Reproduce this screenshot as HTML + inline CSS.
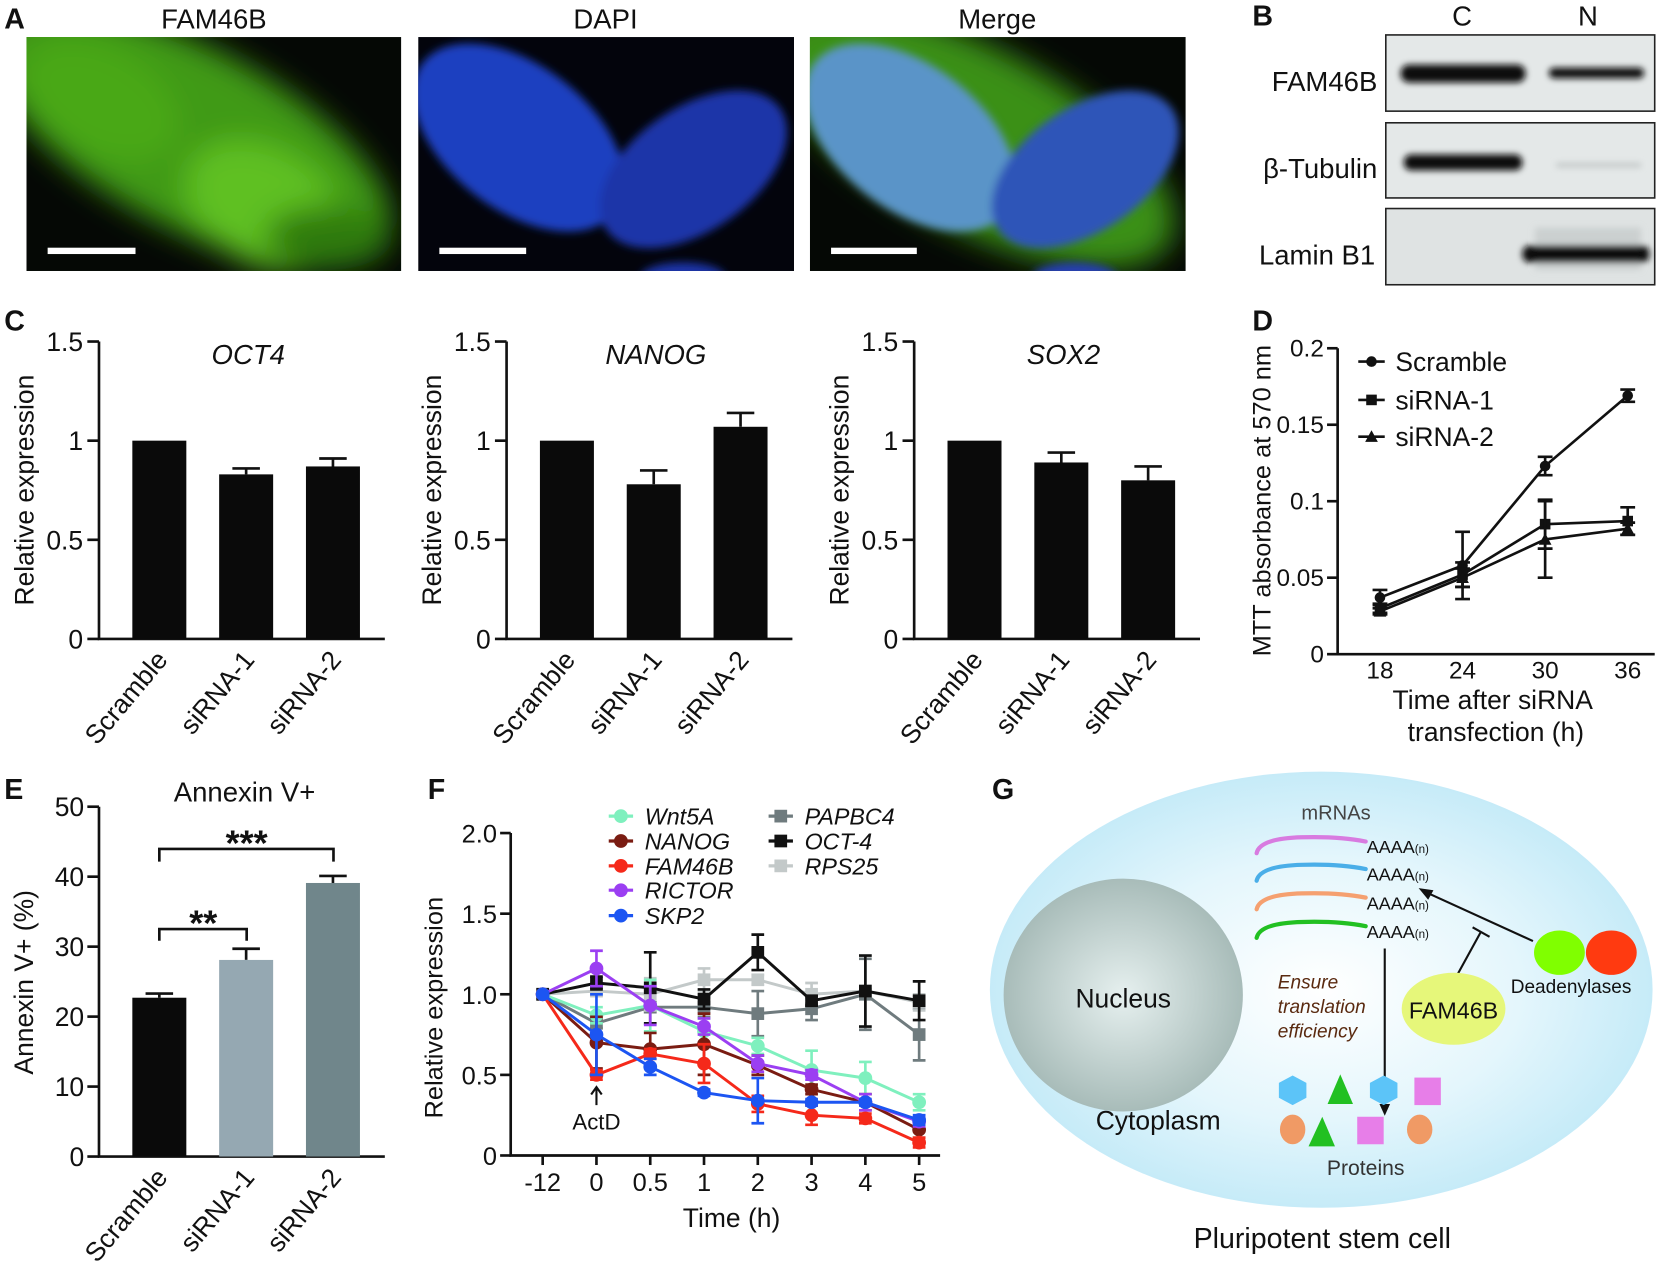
<!DOCTYPE html>
<html><head><meta charset="utf-8"><style>
html,body{margin:0;padding:0;background:#fff;}
svg{display:block;font-family:"Liberation Sans",Arial,sans-serif;}
</style></head><body>
<svg id="fig" xmlns="http://www.w3.org/2000/svg" width="1660" height="1266" viewBox="0 0 1568 1196" preserveAspectRatio="none">
<defs>
<filter id="bl" x="-50%" y="-50%" width="200%" height="200%"><feGaussianBlur stdDeviation="14"/></filter>
<filter id="bl2" x="-50%" y="-50%" width="200%" height="200%"><feGaussianBlur stdDeviation="4"/></filter>
<filter id="bl3" x="-20%" y="-50%" width="140%" height="200%"><feGaussianBlur stdDeviation="3"/></filter>
<radialGradient id="cellg" cx="50%" cy="50%" r="50%"><stop offset="0" stop-color="#ffffff"/><stop offset="0.6" stop-color="#e4f6fc"/><stop offset="1" stop-color="#c6ebf8"/></radialGradient>
<radialGradient id="nucg" cx="50%" cy="50%" r="50%"><stop offset="0" stop-color="#e6f0ef"/><stop offset="1" stop-color="#a8bcb9"/></radialGradient>
<clipPath id="c1"><rect x="25" y="35" width="354" height="221"/></clipPath>
<clipPath id="c2"><rect x="395" y="35" width="355" height="221"/></clipPath>
<clipPath id="c3"><rect x="765" y="35" width="355" height="221"/></clipPath>
</defs>

<g font-weight="bold" font-size="27" fill="#111">
<text x="4" y="27">A</text>
<text x="1183" y="24">B</text>
<text x="4" y="312">C</text>
<text x="1183" y="312">D</text>
<text x="4" y="755">E</text>
<text x="404" y="755">F</text>
<text x="937" y="755">G</text>
</g>

<g font-size="26" fill="#111" text-anchor="middle">
<text x="202" y="27">FAM46B</text>
<text x="572" y="27">DAPI</text>
<text x="942" y="27">Merge</text>
</g>
<g clip-path="url(#c1)">
<rect x="25" y="35" width="354" height="221" fill="#050805"/>
<g filter="url(#bl)">
<ellipse cx="180" cy="130" rx="210" ry="85" transform="rotate(28 180 130)" fill="#3f9a15"/>
<ellipse cx="250" cy="195" rx="80" ry="55" transform="rotate(30 250 195)" fill="#5fc020"/>
<ellipse cx="95" cy="95" rx="80" ry="50" transform="rotate(28 95 95)" fill="#4aa818"/>
<ellipse cx="310" cy="225" rx="60" ry="30" fill="#2e7a10"/>
</g>
</g>
<g clip-path="url(#c2)">
<rect x="395" y="35" width="355" height="221" fill="#03040c"/>
<g filter="url(#bl2)">
<ellipse cx="490" cy="130" rx="115" ry="68" transform="rotate(38 490 130)" fill="#1f3fc0"/>
<ellipse cx="655" cy="160" rx="100" ry="58" transform="rotate(-35 655 160)" fill="#1a34a8"/>
<ellipse cx="645" cy="262" rx="40" ry="14" fill="#1a34a8"/>
</g>
</g>
<g clip-path="url(#c3)">
<rect x="765" y="35" width="355" height="221" fill="#050805"/>
<g filter="url(#bl)">
<ellipse cx="920" cy="130" rx="210" ry="85" transform="rotate(28 920 130)" fill="#3a9015"/>
</g>
<g filter="url(#bl2)">
<ellipse cx="860" cy="130" rx="115" ry="68" transform="rotate(38 860 130)" fill="#5a94c8"/>
<ellipse cx="1025" cy="160" rx="100" ry="58" transform="rotate(-35 1025 160)" fill="#2f55b8"/>
<ellipse cx="1015" cy="262" rx="40" ry="14" fill="#2540b0"/>
</g>
</g>
<g fill="#fff">
<rect x="45" y="234" width="83" height="6"/>
<rect x="415" y="234" width="82" height="6"/>
<rect x="785" y="234" width="81" height="6"/>
</g>

<g font-size="26" fill="#111">
<text x="1381" y="24" text-anchor="middle">C</text>
<text x="1500" y="24" text-anchor="middle">N</text>
<text x="1301" y="86" text-anchor="end">FAM46B</text>
<text x="1301" y="168" text-anchor="end">β-Tubulin</text>
<text x="1299" y="250" text-anchor="end">Lamin B1</text>
</g>
<g>
<rect x="1309" y="33" width="254" height="72" fill="#e4e8e8" stroke="#222" stroke-width="1.5"/>
<g filter="url(#bl3)"><rect x="1323" y="61" width="118" height="17" rx="8" fill="#0a0a0a"/><rect x="1463" y="64" width="90" height="10" rx="5" fill="#111"/></g>
</g>
<g>
<rect x="1309" y="116" width="254" height="71" fill="#e4e8e8" stroke="#222" stroke-width="1.5"/>
<g filter="url(#bl3)"><rect x="1326" y="146" width="112" height="15" rx="7" fill="#0a0a0a"/><rect x="1470" y="154" width="80" height="4" fill="#bfc4c4"/></g>
</g>
<g>
<rect x="1309" y="197" width="254" height="72" fill="#dfe3e3" stroke="#222" stroke-width="1.5"/>
<g filter="url(#bl3)"><rect x="1450" y="215" width="100" height="40" fill="#b8bebe" opacity="0.5"/><rect x="1438" y="232" width="120" height="16" rx="7" fill="#111"/></g>
</g>

<g id="charts"></g>

<g>
<ellipse cx="1248" cy="935" rx="313" ry="206" fill="url(#cellg)"/>
<ellipse cx="1061" cy="940" rx="113" ry="110" fill="url(#nucg)"/>
<text x="1061" y="952" font-size="25" text-anchor="middle" fill="#111">Nucleus</text>
<text x="1094" y="1067" font-size="25" text-anchor="middle" fill="#111">Cytoplasm</text>
<text x="1262" y="774" font-size="19" text-anchor="middle" fill="#444">mRNAs</text>
<g fill="none" stroke-width="4" stroke-linecap="round">
<path d="M1187,806 Q1190,792 1230,791 Q1265,790 1290,795" stroke="#d87be0"/>
<path d="M1187,832 Q1190,818 1230,817 Q1265,816 1290,821" stroke="#4aaee8"/>
<path d="M1187,859 Q1190,845 1230,844 Q1265,843 1290,848" stroke="#f5a070"/>
<path d="M1187,886 Q1190,872 1230,871 Q1265,870 1290,875" stroke="#22c022"/>
</g>
<g font-size="17" fill="#111">
<text x="1291" y="806">AAAA<tspan font-size="11">(n)</tspan></text>
<text x="1291" y="832">AAAA<tspan font-size="11">(n)</tspan></text>
<text x="1291" y="859">AAAA<tspan font-size="11">(n)</tspan></text>
<text x="1291" y="886">AAAA<tspan font-size="11">(n)</tspan></text>
</g>
<line x1="1448" y1="889" x2="1345" y2="842" stroke="#111" stroke-width="2"/>
<polygon points="1340,839 1354,841 1349,850" fill="#111"/>
<line x1="1371" y1="931" x2="1399" y2="880" stroke="#111" stroke-width="2"/>
<line x1="1391" y1="876" x2="1407" y2="885" stroke="#111" stroke-width="2"/>
<ellipse cx="1473" cy="900" rx="24" ry="21" fill="#80ff00"/>
<ellipse cx="1522" cy="900" rx="24" ry="21" fill="#ff3a10"/>
<text x="1484" y="938" font-size="18" text-anchor="middle" fill="#111">Deadenylases</text>
<ellipse cx="1373" cy="953" rx="49" ry="34" fill="#e6f77a"/>
<text x="1373" y="962" font-size="22" text-anchor="middle" fill="#111">FAM46B</text>
<g font-size="18" font-style="italic" fill="#5a2a10">
<text x="1207" y="934">Ensure</text><text x="1207" y="957">translation</text><text x="1207" y="980">efficiency</text>
</g>
<line x1="1308" y1="896" x2="1308" y2="1045" stroke="#111" stroke-width="2"/>
<polygon points="1303,1043 1313,1043 1308,1054" fill="#111"/>
<g>
<polygon points="1221,1016 1234,1023 1234,1037 1221,1044 1208,1037 1208,1023" fill="#5cc4f8"/>
<polygon points="1266,1015 1254,1043 1278,1043" fill="#22c022"/>
<polygon points="1307,1016 1320,1023 1320,1037 1307,1044 1294,1037 1294,1023" fill="#5cc4f8"/>
<rect x="1336" y="1018" width="25" height="26" fill="#e77ee8"/>
<ellipse cx="1221" cy="1067" rx="12" ry="14" fill="#f09a65"/>
<polygon points="1249,1055 1236,1083 1261,1083" fill="#22c022"/>
<rect x="1282" y="1055" width="25" height="26" fill="#e77ee8"/>
<ellipse cx="1341" cy="1067" rx="12" ry="14" fill="#f09a65"/>
</g>
<text x="1290" y="1110" font-size="20" text-anchor="middle" fill="#333">Proteins</text>
<text x="1249" y="1179" font-size="27" text-anchor="middle" fill="#111">Pluripotent stem cell</text>
</g>
</svg>

<script>
const cCats = ['Scramble', 'siRNA-1', 'siRNA-2'];
const cTitles = ['OCT4', 'NANOG', 'SOX2'];
const cOct4 = [1.0, 0.83, 0.87];
const cOct4Err = [0, 0.03, 0.04];
const cNanog = [1.0, 0.78, 1.07];
const cNanogErr = [0, 0.07, 0.07];
const cSox2 = [1.0, 0.89, 0.80];
const cSox2Err = [0, 0.05, 0.07];
const cTicks = [0, 0.5, 1, 1.5];
const cTickLabels = ['0', '0.5', '1', '1.5'];
const dTimes = [18, 24, 30, 36];
const dScramble = [0.037, 0.058, 0.123, 0.169];
const dScrambleErr = [0.005, 0.022, 0.006, 0.004];
const dSi1 = [0.030, 0.052, 0.085, 0.087];
const dSi1Err = [0.003, 0.008, 0.016, 0.009];
const dSi2 = [0.028, 0.050, 0.075, 0.082];
const dSi2Err = [0.002, 0.006, 0.025, 0.004];
const dYTicks = [0, 0.05, 0.1, 0.15, 0.2];
const dYTickLabels = ['0', '0.05', '0.1', '0.15', '0.2'];
const eCats = ['Scramble', 'siRNA-1', 'siRNA-2'];
const eVals = [22.7, 28.1, 39.1];
const eErr = [0.6, 1.6, 1.0];
const eTicks = [0, 10, 20, 30, 40, 50];
const fTimes = ['-12', '0', '0.5', '1', '2', '3', '4', '5'];
const fNames = ['PAPBC4', 'RPS25', 'OCT-4', 'Wnt5A', 'NANOG', 'FAM46B', 'RICTOR', 'SKP2'];
const fWnt5A = [1, 0.87, 0.93, 0.77, 0.68, 0.53, 0.48, 0.33];
const fWnt5AErr = [0, 0.05, 0.16, 0.08, 0.05, 0.12, 0.10, 0.05];
const fNanog = [1, 0.70, 0.66, 0.69, 0.56, 0.41, 0.33, 0.16];
const fNanogErr = [0, 0.16, 0.10, 0.19, 0.06, 0.03, 0.05, 0.05];
const fFam46b = [1, 0.50, 0.63, 0.57, 0.32, 0.25, 0.23, 0.08];
const fFam46bErr = [0, 0.03, 0.03, 0.12, 0.05, 0.06, 0.03, 0.03];
const fRictor = [1, 1.16, 0.93, 0.80, 0.57, 0.50, 0.33, 0.21];
const fRictorErr = [0, 0.11, 0.12, 0.05, 0.05, 0.03, 0.05, 0.03];
const fSkp2 = [1, 0.75, 0.55, 0.39, 0.34, 0.33, 0.33, 0.22];
const fSkp2Err = [0, 0.25, 0.05, 0.02, 0.14, 0.02, 0.02, 0.03];
const fPapbc4 = [1, 0.82, 0.92, 0.92, 0.88, 0.91, 1.0, 0.75];
const fPapbc4Err = [0, 0.03, 0.03, 0.06, 0.14, 0.07, 0.22, 0.16];
const fOct4 = [1, 1.07, 1.04, 0.97, 1.26, 0.96, 1.02, 0.96];
const fOct4Err = [0, 0.04, 0.22, 0.06, 0.11, 0.03, 0.22, 0.12];
const fRps25 = [1, 1.02, 1.00, 1.09, 1.09, 1.00, 1.02, 0.95];
const fRps25Err = [0, 0.03, 0.10, 0.07, 0.03, 0.07, 0.22, 0.05];
const fYTicks = [0, 0.5, 1.0, 1.5, 2.0];
const fYTickLabels = ['0', '0.5', '1.0', '1.5', '2.0'];

const NS = 'http://www.w3.org/2000/svg';
const root = document.getElementById('charts');
function mk(tag, attrs, parent, text) {
  const el = document.createElementNS(NS, tag);
  for (const k in attrs) el.setAttribute(k, attrs[k]);
  if (text !== undefined) el.textContent = text;
  (parent || root).appendChild(el);
  return el;
}
function grp(parent, name) {
  const g = mk('g', {}, parent);
  
  
  return g;
}
function errBar(g, x, y1, y2, cap, color, w) {
  const e = mk('path', {d: `M${x},${y1}V${y2}M${x - cap},${y2}H${x + cap}`, stroke: color, 'stroke-width': w, fill: 'none'}, g);
  
  
}

const cVals = [cOct4, cNanog, cSox2];
const cErrs = [cOct4Err, cNanogErr, cSox2Err];
for (let p = 0; p < 3; p++) {
  const ax = 93.5 + p * 385;
  const y = v => 603.6 - v * 187.3;
  const g = grp(root, 'bar-chart-' + cTitles[p].toLowerCase());
  const axes = mk('path', {d: `M${ax},${y(1.5)}V${y(0)}H${ax + 270}`, stroke: '#111', 'stroke-width': 2.5, fill: 'none'}, g);
  
  
  cTicks.forEach((t, i) => {
    mk('line', {x1: ax - 11, x2: ax, y1: y(t), y2: y(t), stroke: '#111', 'stroke-width': 2.5}, g);
    const tl = mk('text', {x: ax - 15, y: y(t) + 9, 'font-size': 25, 'text-anchor': 'end', fill: '#111'}, g, cTickLabels[i]);
    
    
  });
  const yt = mk('text', {x: 0, y: 0, 'font-size': 25, 'text-anchor': 'middle', fill: '#111', transform: `translate(${ax - 62},463) rotate(-90)`}, g, 'Relative expression');
  
  
  const tt = mk('text', {x: ax + 141, y: 344, 'font-size': 26, 'font-style': 'italic', 'text-anchor': 'middle', fill: '#111'}, g, cTitles[p]);
  
  
  cCats.forEach((c, i) => {
    const cx = ax + 57 + i * 82;
    const v = cVals[p][i];
    if (cErrs[p][i] > 0) errBar(g, cx, y(v), y(v + cErrs[p][i]), 13, '#111', 2.5);
    const b = mk('rect', {x: cx - 25.5, y: y(v), width: 51, height: y(0) - y(v), fill: '#0a0a0a'}, g);
    
    
    const xl = mk('text', {x: 0, y: 0, 'font-size': 25, 'text-anchor': 'end', fill: '#111', transform: `translate(${cx + 9},${624}) rotate(-50)`}, g, c);
    
    
  });
}

(function () {
  const ax = 93.5;
  const y = v => 1092.6 - v * 6.61;
  const g = grp(root, 'annexin-bar-chart');
  const axes = mk('path', {d: `M${ax},${y(50)}V${y(0)}H${ax + 270}`, stroke: '#111', 'stroke-width': 2.5, fill: 'none'}, g);
  
  
  eTicks.forEach(t => {
    mk('line', {x1: ax - 11, x2: ax, y1: y(t), y2: y(t), stroke: '#111', 'stroke-width': 2.5}, g);
    const tl = mk('text', {x: ax - 14, y: y(t) + 9, 'font-size': 25, 'text-anchor': 'end', fill: '#111'}, g, String(t));
    
    
  });
  const yt = mk('text', {x: 0, y: 0, 'font-size': 25, 'text-anchor': 'middle', fill: '#111', transform: `translate(31,928) rotate(-90)`}, g, 'Annexin V+ (%)');
  
  
  const tt = mk('text', {x: 231, y: 757, 'font-size': 26, 'text-anchor': 'middle', fill: '#111'}, g, 'Annexin V+');
  
  
  const colors = ['#0a0a0a', '#95a8b2', '#70868b'];
  eCats.forEach((c, i) => {
    const cx = ax + 57 + i * 82;
    errBar(g, cx, y(eVals[i]), y(eVals[i] + eErr[i]), 13, '#111', 2.5);
    const b = mk('rect', {x: cx - 25.5, y: y(eVals[i]), width: 51, height: y(0) - y(eVals[i]), fill: colors[i]}, g);
    
    
    const xl = mk('text', {x: 0, y: 0, 'font-size': 25, 'text-anchor': 'end', fill: '#111', transform: `translate(${cx + 9},${1113}) rotate(-50)`}, g, c);
    
    
  });
  const b1 = mk('path', {d: 'M150.5,888.7V877.7H233V888.7', stroke: '#111', 'stroke-width': 2.5, fill: 'none'}, g);
  
  
  const s1 = mk('text', {x: 192, y: 884, 'font-size': 34, 'text-anchor': 'middle', 'font-weight': 'bold', fill: '#111'}, g, '**');
  
  
  const b2 = mk('path', {d: 'M150.5,814V802H315V814', stroke: '#111', 'stroke-width': 2.5, fill: 'none'}, g);
  
  
  const s2 = mk('text', {x: 233, y: 808, 'font-size': 34, 'text-anchor': 'middle', 'font-weight': 'bold', fill: '#111'}, g, '***');
  
  
})();

(function () {
  const ax = 1263.5;
  const y = v => 618 - v * 1445;
  const x = t => 1303.5 + (t - 18) * 13;
  const g = grp(root, 'mtt-line-chart');
  const axes = mk('path', {d: `M${ax},${y(0.2)}V${y(0)}H1563`, stroke: '#111', 'stroke-width': 2.5, fill: 'none'}, g);
  
  
  dYTicks.forEach((t, i) => {
    mk('line', {x1: ax - 10, x2: ax, y1: y(t), y2: y(t), stroke: '#111', 'stroke-width': 2.5}, g);
    const tl = mk('text', {x: ax - 13, y: y(t) + 8, 'font-size': 23, 'text-anchor': 'end', fill: '#111'}, g, dYTickLabels[i]);
    
    
  });
  dTimes.forEach(t => {
    const tl = mk('text', {x: x(t), y: 641, 'font-size': 23, 'text-anchor': 'middle', fill: '#111'}, g, String(t));
    
    
  });
  const yt = mk('text', {x: 0, y: 0, 'font-size': 24, 'text-anchor': 'middle', fill: '#111', transform: `translate(1200,473) rotate(-90)`}, g, 'MTT absorbance at 570 nm');
  
  
  const xt1 = mk('text', {x: 1410, y: 670, 'font-size': 25, 'text-anchor': 'middle', fill: '#111'}, g, 'Time after siRNA');
  
  
  const xt2 = mk('text', {x: 1413, y: 700, 'font-size': 25, 'text-anchor': 'middle', fill: '#111'}, g, 'transfection (h)');
  
  
  const series = [['Scramble', dScramble, dScrambleErr, 'circle'], ['siRNA-1', dSi1, dSi1Err, 'square'], ['siRNA-2', dSi2, dSi2Err, 'triangle']];
  function marker(sg, shape, cx, cy, s) {
    let m;
    if (shape === 'circle') m = mk('circle', {cx, cy, r: s, fill: '#111'}, sg);
    else if (shape === 'square') m = mk('rect', {x: cx - s, y: cy - s, width: 2 * s, height: 2 * s, fill: '#111'}, sg);
    else m = mk('polygon', {points: `${cx},${cy - s - 1} ${cx - s - 1},${cy + s} ${cx + s + 1},${cy + s}`, fill: '#111'}, sg);
    
    
  }
  series.forEach(([name, vals, errs, shape], si) => {
    const sg = grp(g, 'series-' + name.toLowerCase());
    vals.forEach((v, i) => {
      errBar(sg, x(dTimes[i]), y(v), y(v + errs[i]), 7, '#111', 2.5);
      errBar(sg, x(dTimes[i]), y(v), y(v - errs[i]), 7, '#111', 2.5);
    });
    const ln = mk('polyline', {points: vals.map((v, i) => x(dTimes[i]) + ',' + y(v)).join(' '), stroke: '#111', 'stroke-width': 2.5, fill: 'none'}, sg);
    
    
    vals.forEach((v, i) => marker(sg, shape, x(dTimes[i]), y(v), 5));
    const ly = [341.6, 377.8, 412.5][si];
    const lg = grp(g, 'legend-entry-' + name.toLowerCase());
    mk('line', {x1: 1283, x2: 1308, y1: ly, y2: ly, stroke: '#111', 'stroke-width': 2.5}, lg);
    marker(lg, shape, 1295.5, ly, 5);
    mk('text', {x: 1318, y: ly + 9, 'font-size': 25, fill: '#111'}, lg, name);
  });
})();

(function () {
  const ax = 482.4;
  const y = v => 1091.6 - v * 152.3;
  const x = i => 512.6 + i * 50.8;
  const g = grp(root, 'mrna-decay-line-chart');
  const axes = mk('path', {d: `M${ax},${y(2)}V${y(0)}H888`, stroke: '#111', 'stroke-width': 2.5, fill: 'none'}, g);
  
  
  fYTicks.forEach((t, i) => {
    mk('line', {x1: ax - 10, x2: ax, y1: y(t), y2: y(t), stroke: '#111', 'stroke-width': 2.5}, g);
    const tl = mk('text', {x: ax - 13, y: y(t) + 9, 'font-size': 24, 'text-anchor': 'end', fill: '#111'}, g, fYTickLabels[i]);
    
    
  });
  fTimes.forEach((t, i) => {
    mk('line', {x1: x(i), x2: x(i), y1: y(0), y2: y(0) + 9, stroke: '#111', 'stroke-width': 2.5}, g);
    const tl = mk('text', {x: x(i), y: 1125, 'font-size': 24, 'text-anchor': 'middle', fill: '#111'}, g, t);
    
    
  });
  const yt = mk('text', {x: 0, y: 0, 'font-size': 24, 'text-anchor': 'middle', fill: '#111', transform: `translate(418,952) rotate(-90)`}, g, 'Relative expression');
  
  
  const xt = mk('text', {x: 691, y: 1159, 'font-size': 25, 'text-anchor': 'middle', fill: '#111'}, g, 'Time (h)');
  
  
  const aa = mk('path', {d: `M${x(1)},1044V1027M${x(1) - 5},1034L${x(1)},1027L${x(1) + 5},1034`, stroke: '#111', 'stroke-width': 2, fill: 'none'}, g);
  
  
  const at = mk('text', {x: x(1), y: 1067, 'font-size': 21, 'text-anchor': 'middle', fill: '#111'}, g, 'ActD');
  
  
  const vals = {Wnt5A: fWnt5A, NANOG: fNanog, FAM46B: fFam46b, RICTOR: fRictor, SKP2: fSkp2, PAPBC4: fPapbc4, 'OCT-4': fOct4, RPS25: fRps25};
  const errs = {Wnt5A: fWnt5AErr, NANOG: fNanogErr, FAM46B: fFam46bErr, RICTOR: fRictorErr, SKP2: fSkp2Err, PAPBC4: fPapbc4Err, 'OCT-4': fOct4Err, RPS25: fRps25Err};
  const colors = {Wnt5A: '#7ff0be', NANOG: '#7a1c12', FAM46B: '#f5291a', RICTOR: '#9b3ff2', SKP2: '#1c55f2', PAPBC4: '#6f7b7e', 'OCT-4': '#111111', RPS25: '#c3c9c9'};
  const square = {PAPBC4: 1, 'OCT-4': 1, RPS25: 1};
  const legendPos = {Wnt5A: [575, 771], NANOG: [575, 794.5], FAM46B: [575, 818], RICTOR: [575, 841], SKP2: [575, 865], PAPBC4: [726, 771], 'OCT-4': [726, 794.5], RPS25: [726, 818]};
  function marker(sg, name, cx, cy) {
    let m;
    if (square[name]) m = mk('rect', {x: cx - 6, y: cy - 6, width: 12, height: 12, fill: colors[name]}, sg);
    else m = mk('circle', {cx, cy, r: 6.5, fill: colors[name]}, sg);
    
    
  }
  fNames.forEach(name => {
    const sg = grp(g, 'series-' + name.toLowerCase());
    const v = vals[name], e = errs[name];
    v.forEach((val, i) => {
      if (e[i] > 0) {
        errBar(sg, x(i), y(val), y(val + e[i]), 6, colors[name], 2.5);
        errBar(sg, x(i), y(val), y(val - e[i]), 6, colors[name], 2.5);
      }
    });
    const ln = mk('polyline', {points: v.map((val, i) => x(i) + ',' + y(val)).join(' '), stroke: colors[name], 'stroke-width': 2.8, fill: 'none'}, sg);
    
    
    v.forEach((val, i) => marker(sg, name, x(i), y(val)));
    const [lx, ly] = legendPos[name];
    const lg = grp(g, 'legend-entry-' + name.toLowerCase());
    mk('line', {x1: lx, x2: lx + 23, y1: ly, y2: ly, stroke: colors[name], 'stroke-width': 3}, lg);
    marker(lg, name, lx + 11.5, ly);
    mk('text', {x: lx + 34, y: ly + 8, 'font-size': 22, 'font-style': 'italic', fill: '#111'}, lg, name);
  });
})();
</script>
</body></html>
